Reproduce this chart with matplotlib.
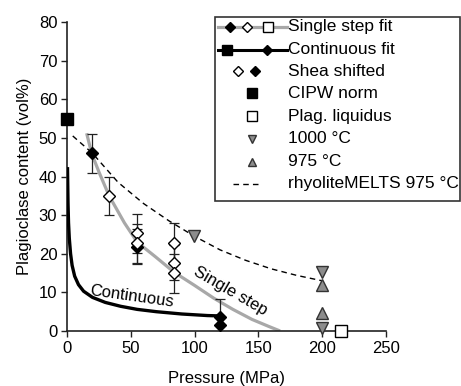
import matplotlib
matplotlib.use("Agg")
import matplotlib.pyplot as plt
import matplotlib.transforms as mtransforms
from matplotlib.lines import Line2D
from matplotlib.patches import Rectangle

plt.rcParams['font.family'] = ['Liberation Sans', 'DejaVu Sans']
plt.rcParams['font.size'] = 12

# ---- data ----
single_x = [15.4, 19.3, 25, 33, 45, 55, 69, 84, 100, 115, 130, 145, 158, 167]
single_y = [51.2, 46.0, 41.2, 35.0, 28.0, 23.0, 19.3, 15.2, 11.8, 8.5, 5.6, 3.0, 1.2, 0.0]

cont_x = [0.4, 0.8, 1.2, 1.8, 2.8, 4, 6, 9, 13, 20, 30, 42, 55, 70, 90, 110, 120]
cont_y = [42, 33, 28, 24, 20, 17, 14.2, 12, 10.3, 8.7, 7.4, 6.4, 5.6, 5.0, 4.4, 4.0, 3.9]

melts_x = [4.5, 20, 40, 60, 80, 100, 120, 140, 160, 180, 200]
melts_y = [50.5, 46, 38.5, 33, 28.5, 24.5, 21, 18.3, 16.1, 14.4, 13]

open_x = [33, 55, 55, 84, 84, 84]
open_y = [35.0, 25.3, 22.7, 22.9, 17.7, 14.9]
open_err = [5, 5, 5, 5, 4.5, 5]

filled_x = [19.3, 55, 120]
filled_y = [46.0, 21.8, 1.5]
filled_err = [5, 4.5, 6.8]

contfit_end_x = [120]
contfit_end_y = [3.5]

cipw_x, cipw_y = [0], [55]
liq_x, liq_y = [215], [0]
t1000_x, t1000_y = [99.5, 200, 200], [24.6, 15.3, 0.8]
t975_x, t975_y = [200, 200], [12.0, 4.6]

xticks = [0, 50, 100, 150, 200, 250]
yticks = [0, 10, 20, 30, 40, 50, 60, 70, 80]

legend_labels = ["Single step fit", "Continuous fit", "Shea shifted", "CIPW norm",
                 "Plag. liquidus", "1000 °C", "975 °C", "rhyoliteMELTS 975 °C"]

# ---- figure ----
W, H = 461, 386
fig = plt.figure(figsize=(W / 100, H / 100), dpi=100)
ax = fig.add_axes([67 / W, 1 - 331 / H, (386 - 67) / W, (331 - 22) / H])

GRAY_LINE = '#a8a8a8'
TRI_FILL = '#8c8c8c'

ax.plot(single_x, single_y, color=GRAY_LINE, lw=2.3, zorder=2, solid_capstyle='butt')
ax.plot(cont_x, cont_y, color='black', lw=2.4, zorder=3)
ax.plot(melts_x, melts_y, color='black', lw=1.0, ls=(0, (4, 3)), zorder=2)

ax.errorbar(open_x, open_y, yerr=open_err, fmt='none', ecolor='#222222', elinewidth=0.9,
            capsize=3.5, capthick=0.9, zorder=4)
ax.errorbar(filled_x, filled_y, yerr=filled_err, fmt='none', ecolor='#222222', elinewidth=0.9,
            capsize=3.5, capthick=0.9, zorder=4)

ax.plot(filled_x, filled_y, 'D', ms=6, mfc='black', mec='black', mew=1, ls='none', zorder=5, clip_on=False)
ax.plot(open_x, open_y, 'D', ms=6, mfc='white', mec='black', mew=1, ls='none', zorder=6, clip_on=False)
ax.plot(contfit_end_x, contfit_end_y, 'D', ms=6, mfc='black', mec='black', ls='none', zorder=6, clip_on=False)

ax.plot(cipw_x, cipw_y, 's', ms=8, mfc='black', mec='black', ls='none', zorder=6, clip_on=False)
ax.plot(liq_x, liq_y, 's', ms=8, mfc='white', mec='black', mew=1, ls='none', zorder=6, clip_on=False)
ax.plot(t1000_x, t1000_y, 'v', ms=8, mfc=TRI_FILL, mec='#333333', mew=1, ls='none', zorder=6, clip_on=False)
ax.plot(t975_x, t975_y, '^', ms=8, mfc=TRI_FILL, mec='#333333', mew=1, ls='none', zorder=6, clip_on=False)

ax.text(51, 9.0, "Continuous", rotation=-8, ha='center', va='center', fontsize=12, zorder=7)
ax.text(128, 10.4, "Single step", rotation=-30, ha='center', va='center', fontsize=12, zorder=7)

ax.set_xlim(0, 250)
ax.set_ylim(0, 80)
ax.set_xticks(xticks)
ax.set_yticks(yticks)
for s in ['top', 'right']:
    ax.spines[s].set_visible(False)
for s in ['left', 'bottom']:
    ax.spines[s].set_linewidth(1.2)
    ax.spines[s].set_color('#222222')
ax.tick_params(direction='out', length=4, width=1, color='#222222', labelsize=12, pad=3)
ax.set_xlabel("Pressure (MPa)", fontsize=12, labelpad=11)
ax.set_ylabel("Plagioclase content (vol%)", fontsize=12, labelpad=5)

# ---- legend (drawn in pixel coords, top-left origin) ----
pix = mtransforms.Affine2D().scale(1 / W, -1 / H).translate(0, 1) + fig.transFigure

fig.add_artist(Rectangle((215, 17), 245, 184, transform=pix, fill=False,
                         ec='#333333', lw=1.2, zorder=10))
rows = [27, 50, 71, 93, 116, 139, 162, 184]
text_x = 288
for lab, ry in zip(legend_labels, rows):
    fig.text(text_x / W, 1 - ry / H, lab, ha='left', va='center', fontsize=12.5)

def lg(xs, ys, **kw):
    fig.add_artist(Line2D(xs, ys, transform=pix, **kw))

# row 1: single step fit
lg([218, 287], [rows[0]] * 2, color=GRAY_LINE, lw=2.3)
lg([230], [rows[0]], marker='D', ms=5, mfc='black', mec='black', ls='none')
lg([247], [rows[0]], marker='D', ms=5, mfc='white', mec='black', mew=1, ls='none')
lg([268], [rows[0]], marker='s', ms=7, mfc='white', mec='black', mew=1, ls='none')
# row 2: continuous fit
lg([218, 287], [rows[1]] * 2, color='black', lw=2.2)
lg([227], [rows[1]], marker='s', ms=7.5, mfc='black', mec='black', ls='none')
lg([267], [rows[1]], marker='D', ms=5, mfc='black', mec='black', ls='none')
# row 3: shea shifted
lg([238], [rows[2]], marker='D', ms=5, mfc='white', mec='black', mew=1, ls='none')
lg([255], [rows[2]], marker='D', ms=5, mfc='black', mec='black', ls='none')
# row 4-7
lg([252], [rows[3]], marker='s', ms=7, mfc='black', mec='black', ls='none')
lg([252], [rows[4]], marker='s', ms=7, mfc='white', mec='black', mew=1, ls='none')
lg([252], [rows[5]], marker='v', ms=6, mfc=TRI_FILL, mec='#333333', mew=1, ls='none')
lg([252], [rows[6]], marker='^', ms=6, mfc=TRI_FILL, mec='#333333', mew=1, ls='none')
# row 8: dashed
lg([233, 261], [rows[7]] * 2, color='black', lw=1.0, ls=(0, (4, 3)))

fig.savefig("out.png", dpi=100)
